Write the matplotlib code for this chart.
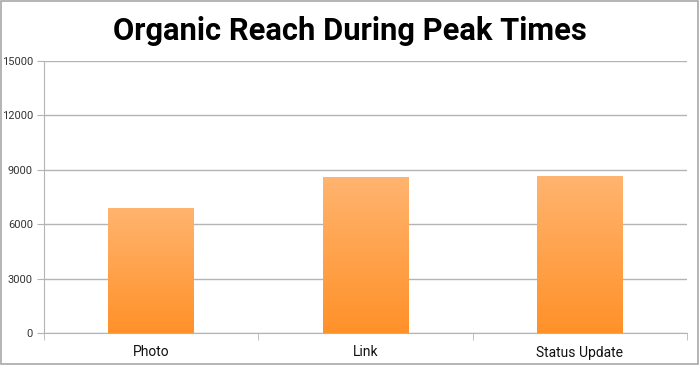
import numpy as np
import matplotlib
matplotlib.use("Agg")
import matplotlib.pyplot as plt
from matplotlib.colors import LinearSegmentedColormap
from matplotlib.patches import Rectangle

title = "Organic Reach During Peak Times"
categories = ["Photo", "Link", "Status Update"]
values = [6900, 8580, 8650]
yticks = [0, 3000, 6000, 9000, 12000, 15000]

plt.rcParams['font.family'] = ['Roboto', 'DejaVu Sans']

fig = plt.figure(figsize=(7.0, 3.66), dpi=100)
ax = fig.add_axes([44/700, 1-333/366, (687-44)/700, (333-61)/366])

x = np.arange(len(categories))
bars = ax.bar(x, values, width=0.4, color='#ffa04a', edgecolor='none', zorder=2)

cmap = LinearSegmentedColormap.from_list('og', ['#ff9129', '#ffb46f'])
grad = np.linspace(0, 1, 256).reshape(-1, 1)
for b in bars:
    x0, y0 = b.get_x(), b.get_y()
    w, h = b.get_width(), b.get_height()
    im = ax.imshow(grad, cmap=cmap, origin='lower', aspect='auto',
                   extent=[x0, x0 + w, y0, y0 + h], zorder=3)
    im.set_clip_path(b)

ax.set_xlim(-0.5, len(categories) - 0.5)
ax.set_ylim(0, 15000)
ax.set_yticks(yticks)
ax.set_yticklabels([str(v) for v in yticks], fontsize=8, color='#333333')
ax.yaxis.grid(True, color='#b4b4b4', linewidth=1.0, zorder=0)
ax.set_axisbelow(True)

ax.set_xticks(x)
ax.set_xticklabels(categories, fontsize=10, color='#111111')
ax.tick_params(axis='x', length=0, pad=9)
ax.set_xticks(np.arange(len(categories) + 1) - 0.5, minor=True)
ax.tick_params(axis='x', which='minor', length=5, color='#b4b4b4', direction='out')
ax.tick_params(axis='y', length=5, color='#b4b4b4', direction='out', pad=3)

for s in ['top', 'right']:
    ax.spines[s].set_visible(False)
ax.spines['left'].set_color('#b4b4b4')
ax.spines['bottom'].set_color('#b4b4b4')

fig.text(0.5, 1-31/366, title, ha='center', va='center', fontsize=22.2,
         fontweight='bold', color='#000000')

fig.patches.append(Rectangle((0.5/700, 1-363.5/366), 697/700, 363/366,
                             transform=fig.transFigure, fill=False,
                             edgecolor='#a8a8a8', linewidth=1.2))

fig.savefig('out.png', dpi=100)
